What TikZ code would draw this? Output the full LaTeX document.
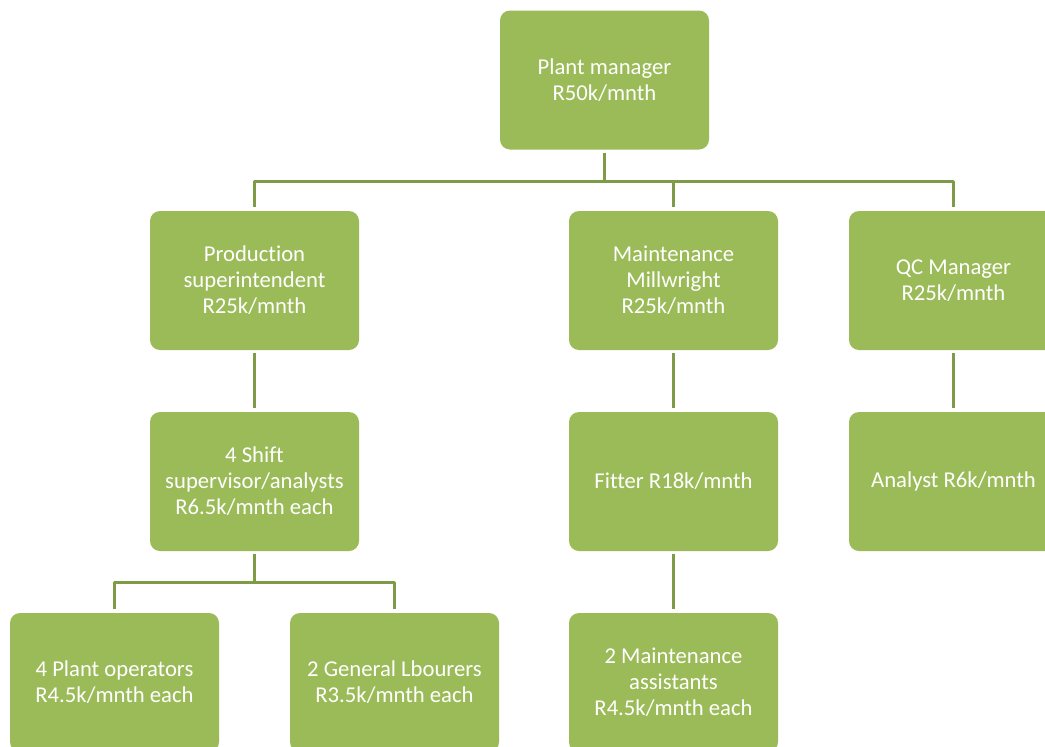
\documentclass[tikz,border=0pt]{standalone}
\usepackage{fontspec}
\setmainfont{Carlito}[Ligatures=NoCommon]
\usepackage{tikz}
\usetikzlibrary{calc}
\definecolor{boxgreen}{HTML}{9BBB59}
\definecolor{linkgreen}{HTML}{7F9B48}

\begin{document}
\begin{tikzpicture}[x=0.75pt, y=-0.75pt, line join=round,
    post/.style={fill=boxgreen, rounded corners=7.5pt, minimum width=156.75pt,
        minimum height=104.25pt, inner sep=2pt, align=center, text=white,
        font=\fontsize{17}{19.5}\selectfont},
    link/.style={draw=linkgreen, line width=2.25pt, shorten <=2.3pt, shorten >=3pt}]

    % page size 1045 x 746 px, boxes on the right and bottom run off it
    \useasboundingbox (0,0) rectangle (1045,746);
    \clip (0,0) rectangle (1045,746);

    % Top
    \node[post] (pm) at (604.5, 80) {Plant manager\\R50k/mnth};

    % Second row
    \node[post] (prod)  at (254.5, 280.5) {Production\\superintendent\\R25k/mnth};
    \node[post] (maint) at (673.5, 280.5) {Maintenance\\Millwright\\R25k/mnth};
    \node[post] (qc)    at (953.5, 280.5) {QC Manager\\R25k/mnth};

    % Third row
    \node[post] (shift)   at (254.5, 481.5) {4 Shift\\supervisor/analysts\\R6.5k/mnth each};
    \node[post] (fitter)  at (673.5, 481.5) {Fitter R18k/mnth};
    \node[post] (analyst) at (953.5, 481.5) {Analyst R6k/mnth};

    % Bottom row
    \node[post] (ops)  at (114.5, 682.5) {4 Plant operators\\R4.5k/mnth each};
    \node[post] (lab)  at (394.5, 682.5) {2 General Lbourers\\R3.5k/mnth each};
    \node[post] (asst) at (673.5, 682.5) {2 Maintenance\\assistants\\R4.5k/mnth each};

    % Bars where the lines split
    \coordinate (topbar) at (604.5, 181);
    \coordinate (shiftbar) at (254.5, 582);

    % Connectors
    \draw[link] (pm.south) -- (topbar) -| (prod.north);
    \draw[link] (pm.south) -- (topbar) -| (maint.north);
    \draw[link] (pm.south) -- (topbar) -| (qc.north);

    \draw[link] (prod.south) -- (shift.north);
    \draw[link] (maint.south) -- (fitter.north);
    \draw[link] (qc.south) -- (analyst.north);

    \draw[link] (shift.south) -- (shiftbar) -| (ops.north);
    \draw[link] (shift.south) -- (shiftbar) -| (lab.north);
    \draw[link] (fitter.south) -- (asst.north);

\end{tikzpicture}
\end{document}
